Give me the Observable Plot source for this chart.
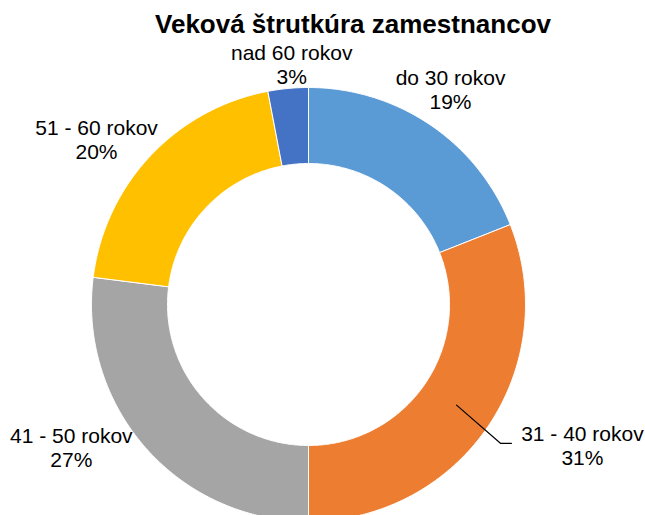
<!DOCTYPE html>
<html>
<head>
<meta charset="utf-8">
<script src="https://cdn.jsdelivr.net/npm/d3@7"></script>
<script src="https://cdn.jsdelivr.net/npm/@observablehq/plot@0.6"></script>
<style>
  html, body { margin: 0; padding: 0; background: #fff; }
  #chart { width: 645px; height: 515px; overflow: hidden; }
</style>
</head>
<body>
<div id="chart"></div>
<script>
// ---- data ----
const title = "Veková štrutkúra zamestnancov";
const categories = ["do 30 rokov", "31 - 40 rokov", "41 - 50 rokov", "51 - 60 rokov", "nad 60 rokov"];
const shares = [19, 31, 27, 20, 3];
const colors = ["#5B9BD5", "#ED7D31", "#A5A5A5", "#FFC000", "#4472C4"];

// ---- layout (pixels) ----
const W = 645, H = 515;
const cx = 308, cy = 304, rOuter = 217, rInner = 141;
// label placement: radius and angular nudge (deg) from each slice's mid-angle
const labelRadius = [258, 308, 277, 269, 241];
const labelNudge = [-0.8, -7.0, 10.3, -5.2, 1.4];
const leaderFor = ["31 - 40 rokov"];
const fontLabel = 21, fontTitle = 26;

const arcs = d3.pie().sort(null).value(d => d)(shares);
const pt = (a, r) => ({x: cx + r * Math.sin(a), y: cy - r * Math.cos(a)});

// slice polygons sampled along arcs
const ring = [];
arcs.forEach((a, i) => {
  const n = Math.max(4, Math.ceil((a.endAngle - a.startAngle) * 180 / Math.PI * 2));
  const pts = [];
  for (let k = 0; k <= n; k++) pts.push(pt(a.startAngle + (a.endAngle - a.startAngle) * k / n, rOuter));
  for (let k = n; k >= 0; k--) pts.push(pt(a.startAngle + (a.endAngle - a.startAngle) * k / n, rInner));
  pts.push(pts[0]);
  pts.forEach(p => ring.push({cat: categories[i], x: p.x, y: p.y}));
});

// labels
const labels = arcs.map((a, i) => {
  const mid = (a.startAngle + a.endAngle) / 2 + labelNudge[i] * Math.PI / 180;
  const p = pt(mid, labelRadius[i]);
  return {cat: categories[i], text: `${categories[i]}\n${shares[i]}%`, x: p.x, y: p.y};
});

// leader lines
const leaders = [];
arcs.forEach((a, i) => {
  if (!leaderFor.includes(categories[i])) return;
  const mid = (a.startAngle + a.endAngle) / 2;
  const s = pt(mid, (rOuter + rInner) / 2);
  const lab = labels[i];
  const endX = lab.x - 71, yy = lab.y - 2;
  leaders.push({cat: categories[i], x: s.x, y: s.y});
  leaders.push({cat: categories[i], x: endX - 11, y: yy});
  leaders.push({cat: categories[i], x: endX, y: yy});
});

const chart = Plot.plot({
  width: W,
  height: H,
  margin: 0,
  x: {domain: [0, W], range: [0, W], axis: null},
  y: {domain: [0, H], range: [0, H], axis: null},
  color: {domain: categories, range: colors},
  style: {fontFamily: "'Liberation Sans', Arial, sans-serif", background: "#fff"},
  marks: [
    Plot.line(ring, {x: "x", y: "y", z: "cat", fill: "cat", stroke: "white", strokeWidth: 1, curve: "linear"}),
    Plot.line(leaders, {x: "x", y: "y", z: "cat", stroke: "black", strokeWidth: 1.2, curve: "linear"}),
    Plot.text(labels, {x: "x", y: "y", text: "text", fontSize: fontLabel, lineHeight: 1.14, fill: "black", textAnchor: "middle"}),
    Plot.text([title], {frameAnchor: "top", dx: 30, dy: 14, fontSize: fontTitle, fontWeight: "bold", fill: "black"})
  ]
});
document.getElementById("chart").appendChild(chart);
</script>
</body>
</html>
